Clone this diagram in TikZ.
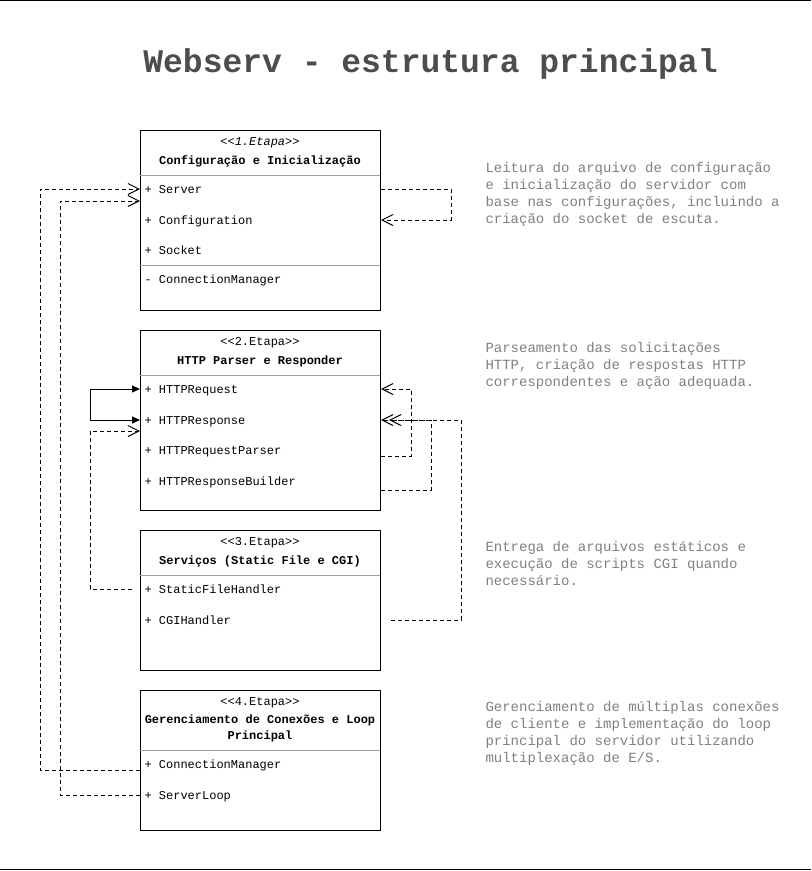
\documentclass[tikz,border=0pt]{standalone}
\usepackage{fontspec}
\setmainfont{Liberation Mono}
\usetikzlibrary{arrows.meta}
\definecolor{mytitlegray}{RGB}{77,77,77}
\definecolor{mytextgray}{RGB}{128,128,128}
\definecolor{mylinegray}{RGB}{160,160,160}
\tikzset{every picture/.style={line width=0.75pt}}
\tikzset{
  etapa/.style={draw, anchor=north west, minimum width=180pt, inner sep=0pt},
  membro/.style={anchor=west, inner sep=0pt, text height=6pt, text depth=0pt, font=\fontsize{9}{11}\selectfont},
  cabeca/.style={inner sep=0pt, text height=6pt, text depth=0pt, font=\fontsize{9}{11}\selectfont},
  nome/.style={cabeca, font=\bfseries\fontsize{9}{11}\selectfont},
  nota/.style={anchor=north west, align=left, inner sep=0pt, text=mytextgray,
    font=\fontsize{10.5}{12.75}\selectfont},
  divisa/.style={draw=mylinegray},
  depende/.style={dash pattern=on 3pt off 2.25pt, -{Straight Barb[length=8.25pt,width=8.25pt]}},
  associa/.style={{Triangle[length=6pt,width=5.25pt]}-{Triangle[length=6pt,width=5.25pt]}}
}

\begin{document}
\begin{tikzpicture}[x=0.75pt,y=0.75pt,yscale=-1]
\useasboundingbox (0,0) rectangle (811,871);

%Straight Lines
\draw [line width=1.1pt] (0,0.7) -- (811,0.7) ;
%Straight Lines
\draw (0,869.5) -- (811,869.5) ;

% Text Node
\node [anchor=base, text=mytitlegray, font=\bfseries\fontsize{24.75}{30}\selectfont] (titulo) at (430.5,72) {Webserv - estrutura principal};

%Shape: Rectangle
\node [etapa, minimum height=135pt] (etapa1) at (140,130) {};
\draw [divisa] (140,175) -- (380,175) ;
\draw [divisa] (140,265) -- (380,265) ;
% Text Node
\node [cabeca, font=\itshape\fontsize{9}{11}\selectfont] (estereo1) at (260,141) {<{}<1.Etapa>{}>};
\node [nome] (nome1) at (260,160) {Configuração e Inicialização};
\node [membro] (srv1) at (144,189) {+ Server};
\node [membro] (cfg1) at (144,220) {+ Configuration};
\node [membro] (sock1) at (144,250) {+ Socket};
\node [membro] (cm1) at (144,279) {- ConnectionManager};

%Shape: Rectangle
\node [etapa, minimum height=135pt] (etapa2) at (140,330) {};
\draw [divisa] (140,375) -- (380,375) ;
% Text Node
\node [cabeca] (estereo2) at (260,341) {<{}<2.Etapa>{}>};
\node [nome] (nome2) at (260,360) {HTTP Parser e Responder};
\node [membro] (req2) at (144,389) {+ HTTPRequest};
\node [membro] (resp2) at (144,420) {+ HTTPResponse};
\node [membro] (reqp2) at (144,450) {+ HTTPRequestParser};
\node [membro] (respb2) at (144,481) {+ HTTPResponseBuilder};

%Shape: Rectangle
\node [etapa, minimum height=105pt] (etapa3) at (140,530) {};
\draw [divisa] (140,575) -- (380,575) ;
% Text Node
\node [cabeca] (estereo3) at (260,541) {<{}<3.Etapa>{}>};
\node [nome] (nome3) at (260,560) {Serviços (Static File e CGI)};
\node [membro] (sfh3) at (144,589) {+ StaticFileHandler};
\node [membro] (cgi3) at (144,620) {+ CGIHandler};

%Shape: Rectangle
\node [etapa, minimum height=105pt] (etapa4) at (140,690) {};
\draw [divisa] (140,750) -- (380,750) ;
% Text Node
\node [cabeca] (estereo4) at (260,701) {<{}<4.Etapa>{}>};
\node [font=\bfseries\fontsize{9}{12}\selectfont, align=center, inner sep=0pt] (nome4) at (260,728.8) {Gerenciamento de Conexões e Loop\\Principal};
\node [membro] (cm4) at (144,764) {+ ConnectionManager};
\node [membro] (loop4) at (144,795) {+ ServerLoop};

% Text Node
\node [nota] (nota1) at (485,162) {Leitura do arquivo de configuração\\e inicialização do servidor com\\base nas configurações, incluindo a\\criação do socket de escuta.};
% Text Node
\node [nota] (nota2) at (485,342) {Parseamento das solicitações\\HTTP, criação de respostas HTTP\\correspondentes e ação adequada.};
% Text Node
\node [nota] (nota3) at (485,541) {Entrega de arquivos estáticos e\\execução de scripts CGI quando\\necessário.};
% Text Node
\node [nota] (nota4) at (485,701) {Gerenciamento de múltiplas conexões\\de cliente e implementação do loop\\principal do servidor utilizando\\multiplexação de E/S.};

%Straight Lines
\draw [depende] ([yshift=4.5pt]cm4 -| etapa4.west) -| ([xshift=-75pt]srv1 -| etapa1.west) -- (srv1 -| etapa1.west) ;
%Straight Lines
\draw [depende] (loop4 -| etapa4.west) -| ([xshift=-60pt,yshift=9pt]srv1 -| etapa1.west) -- ([yshift=9pt]srv1 -| etapa1.west) ;
%Straight Lines
\draw [depende] (srv1 -| etapa1.east) -- ++(70,0) |- (cfg1 -| etapa1.east) ;
%Straight Lines
\draw [associa] (req2 -| etapa2.west) -- ++(-50,0) |- (resp2 -| etapa2.west) ;
%Straight Lines
\draw [depende] ([xshift=-6pt]sfh3 -| etapa3.west) -| ([xshift=-37.5pt,yshift=8.25pt]resp2 -| etapa2.west) -- ([yshift=8.25pt]resp2 -| etapa2.west) ;
%Straight Lines
\draw [depende] ([yshift=4.5pt]reqp2 -| etapa2.east) -| ([xshift=22.5pt]req2 -| etapa2.east) -- (req2 -| etapa2.east) ;
%Straight Lines
\draw [depende, shorten >=6pt] ([yshift=6.75pt]respb2 -| etapa2.east) -| ([xshift=37.5pt]resp2 -| etapa2.east) -- (resp2 -| etapa2.east) ;
%Straight Lines
\draw [depende] ([xshift=7.5pt]cgi3 -| etapa3.east) -| ([xshift=60pt]resp2 -| etapa2.east) -- (resp2 -| etapa2.east) ;

\end{tikzpicture}
\end{document}
